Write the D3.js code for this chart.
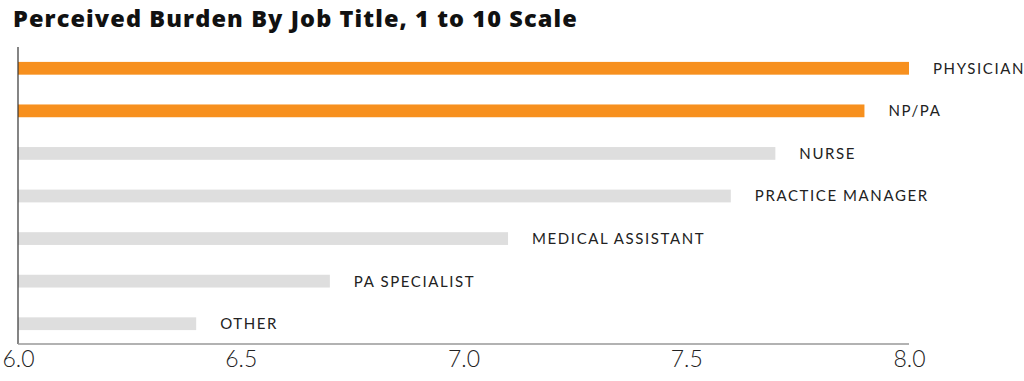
<!DOCTYPE html>
<html><head><meta charset="utf-8">
<script src="https://cdn.jsdelivr.net/npm/d3@7"></script>
<style>body{margin:0;background:#fff;}svg{display:block;}</style>
</head><body>
<svg id="c" width="1024" height="381"></svg>
<script>
const categories = ["PHYSICIAN","NP/PA","NURSE","PRACTICE MANAGER","MEDICAL ASSISTANT","PA SPECIALIST","OTHER"];
const values = [8.0, 7.9, 7.7, 7.6, 7.1, 6.7, 6.4];
const highlighted = [true, true, false, false, false, false, false];
const xTicks = [6.0, 6.5, 7.0, 7.5, 8.0];
const title = "Perceived Burden By Job Title, 1 to 10 Scale";

const svg = d3.select("#c");
const x = d3.scaleLinear().domain([6, 8]).range([18, 909]);
const y = d3.scaleBand().domain(categories).range([47, 345]).paddingInner(0.7).paddingOuter(0.35);

svg.append("text").attr("x", 13).attr("y", 27)
  .style("font-family", "'Open Sans', sans-serif").style("font-weight", 800)
  .style("font-size", "23.5px").style("letter-spacing", "1.1px").attr("fill", "#111").text(title);

svg.selectAll("rect.bar").data(categories).join("rect")
  .attr("class", "bar")
  .attr("x", x(6)).attr("y", d => y(d)).attr("height", y.bandwidth())
  .attr("width", (d, i) => x(values[i]) - x(6))
  .attr("fill", (d, i) => highlighted[i] ? "#F7901E" : "#DEDEDE");

svg.selectAll("text.lbl").data(categories).join("text")
  .attr("class", "lbl")
  .attr("x", (d, i) => x(values[i]) + 24).attr("y", d => y(d) + y.bandwidth() / 2)
  .attr("dy", "0.36em")
  .style("font-family", "Lato, sans-serif").style("font-size", "15px")
  .style("letter-spacing", "1.6px").attr("fill", "#222").text(d => d);

svg.append("line").attr("x1", x(6)).attr("x2", x(6)).attr("y1", 47).attr("y2", 344)
  .attr("stroke", "#333").attr("stroke-width", 1.2);
svg.append("line").attr("x1", x(6)).attr("x2", x(8)).attr("y1", 344).attr("y2", 344)
  .attr("stroke", "#999").attr("stroke-width", 1.5);

const ax = svg.append("g").attr("transform", "translate(0,344)")
  .call(d3.axisBottom(x).tickValues(xTicks).tickFormat(d3.format(".1f")).tickSize(0).tickPadding(7));
ax.select(".domain").remove();
ax.selectAll("text").style("font-family", "Lato, sans-serif").style("font-weight", 300)
  .style("font-size", "23px").attr("fill", "#222");
</script>
</body></html>
